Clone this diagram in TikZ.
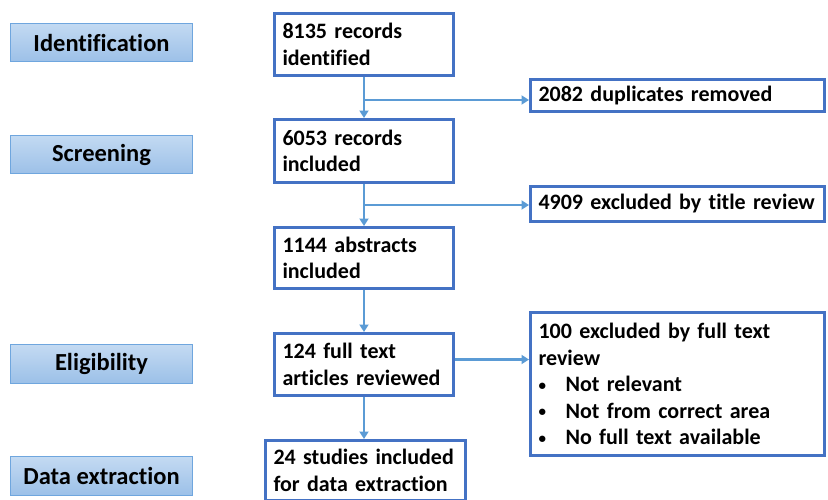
\documentclass[tikz,border=0pt]{standalone}
\usepackage{fontspec}
\setmainfont[Ligatures=NoCommon]{Carlito}
\usetikzlibrary{arrows.meta}
\definecolor{boxblue}{HTML}{4472C4}
\definecolor{arrblue}{HTML}{5B9BD5}
\definecolor{stagetop}{HTML}{C3DAF2}
\definecolor{stagebot}{HTML}{9CC0E8}
\definecolor{stageline}{HTML}{6FA6DE}
\newcommand{\blt}{\makebox[27pt][l]{\raisebox{1.5pt}{\fontsize{15}{15}\selectfont\textbullet}}}
\begin{document}
\begin{tikzpicture}[x=1pt,y=-1pt,
  flowbox/.style={draw=boxblue, line width=3pt, fill=white, align=left,
    inner xsep=8pt, inner ysep=0pt, font=\fontsize{22}{26.5}\selectfont\bfseries},
  stagebox/.style={draw=stageline, line width=1.2pt, top color=stagetop, bottom color=stagebot,
    minimum width=182pt, minimum height=38.5pt, inner sep=0pt,
    font=\fontsize{24.5}{28}\selectfont\bfseries},
  arr/.style={draw=arrblue, line width=2.8pt, -{Triangle[length=7.5pt,width=9pt]}}
]
\useasboundingbox (0,0) rectangle (828,499);
% stage labels
\node[stagebox] (s1) at (101.5,42.5) {Identification};
\node[stagebox] (s2) at (101.5,154.5) {Screening};
\node[stagebox] (s3) at (101.5,364) {Eligibility};
\node[stagebox] (s4) at (101.5,476) {Data extraction};
% main boxes
\node[flowbox, minimum width=179pt, minimum height=62pt, text width=163pt] (b1) at (364,44.5) {8135 records\\identified};
\node[flowbox, minimum width=179pt, minimum height=63pt, text width=163pt] (b2) at (364,151) {6053 records\\included};
\node[flowbox, minimum width=179pt, minimum height=61pt, text width=163pt] (b3) at (364,258) {1144 abstracts\\included};
\node[flowbox, minimum width=179pt, minimum height=62pt, text width=163pt] (b4) at (364,364.5) {124 full text\\articles reviewed};
\node[flowbox, minimum width=200pt, minimum height=60pt, text width=184pt] (b6) at (365.5,470.5) {24 studies included\\for data extraction};
% side boxes
\node[flowbox, minimum width=294pt, minimum height=32pt, text width=278pt] (d1) at (677.5,95.5) {2082 duplicates removed};
\node[flowbox, minimum width=294pt, minimum height=35pt, text width=278pt] (d2) at (677.5,204) {4909 excluded by title review};
\node[flowbox, minimum width=294pt, minimum height=143pt, text width=278pt] (d3) at (677.5,384)
  {100 excluded by full text\\review\\\blt Not relevant\\\blt Not from correct area\\\blt No full text available};
% connectors
\draw[arr] (b1.south) -- (b2.north);
\coordinate (j1) at (364,100);
\draw[arr] (j1) -- (j1 -| d1.west);
\draw[arr] (b2.south) -- (b3.north);
\coordinate (j2) at (364,205);
\draw[arr] (j2) -- (j2 -| d2.west);
\draw[arr] (b3.south) -- (b4.north);
\draw[arr] ([yshift=5pt]b4.east) -- ([yshift=5pt]b4.east -| d3.west);
\draw[arr] (b4.south) -- (b4.south |- b6.north);
\end{tikzpicture}
\end{document}
